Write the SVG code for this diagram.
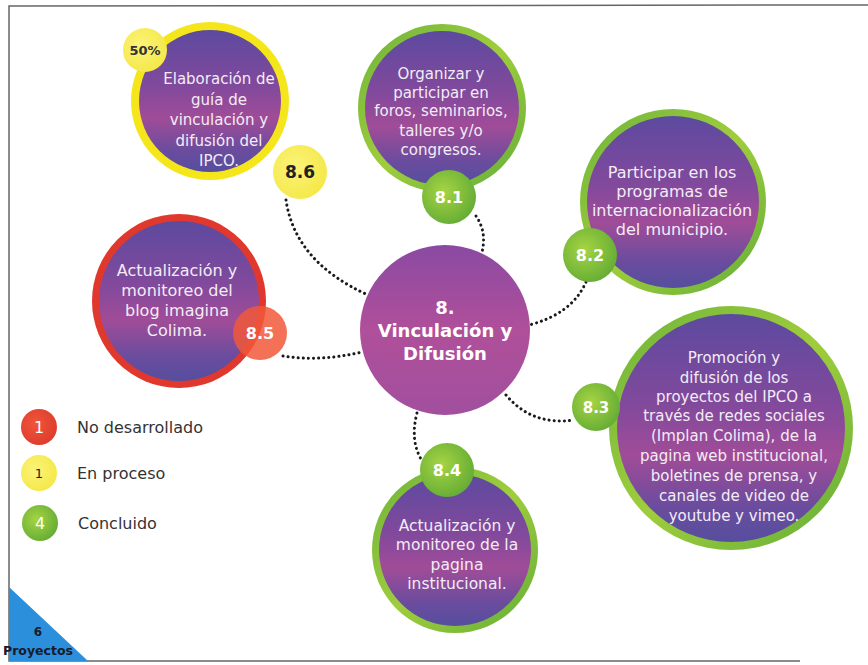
<svg xmlns="http://www.w3.org/2000/svg" width="868" height="665" viewBox="0 0 868 665">
<defs>
<linearGradient id="purple" x1="0" y1="0" x2="0" y2="1">
<stop offset="0" stop-color="#5c4a9f"/>
<stop offset="0.4" stop-color="#82499c"/>
<stop offset="0.62" stop-color="#a04c98"/>
<stop offset="0.85" stop-color="#6a4c9e"/>
<stop offset="1" stop-color="#564e9e"/>
</linearGradient>
<linearGradient id="magenta" x1="0" y1="0" x2="0" y2="1">
<stop offset="0" stop-color="#8a4aa2"/>
<stop offset="0.5" stop-color="#b04f9a"/>
<stop offset="1" stop-color="#a14f9f"/>
</linearGradient>
<linearGradient id="green" x1="0" y1="0" x2="1" y2="1">
<stop offset="0" stop-color="#6db43a"/>
<stop offset="0.5" stop-color="#9fcd3c"/>
<stop offset="1" stop-color="#62ad38"/>
</linearGradient>
<radialGradient id="gbadge" cx="0.4" cy="0.4" r="0.7">
<stop offset="0" stop-color="#a6d443"/>
<stop offset="1" stop-color="#5fa934"/>
</radialGradient>
<radialGradient id="ybadge" cx="0.4" cy="0.4" r="0.7">
<stop offset="0" stop-color="#fbf37a"/>
<stop offset="1" stop-color="#f4e743"/>
</radialGradient>
<radialGradient id="rbadge" cx="0.4" cy="0.4" r="0.7">
<stop offset="0" stop-color="#f0553a"/>
<stop offset="1" stop-color="#dc3a2c"/>
</radialGradient>
</defs>
<style>
.t{font-family:"DejaVu Sans","Liberation Sans",sans-serif;font-size:15.5px;fill:#f3ecf6;text-anchor:middle}
.b{font-family:"DejaVu Sans","Liberation Sans",sans-serif;font-weight:bold;font-size:15px;text-anchor:middle;fill:#fff}
.c{font-family:"DejaVu Sans","Liberation Sans",sans-serif;font-weight:bold;font-size:18px;text-anchor:middle;fill:#fff}
.lg{font-family:"DejaVu Sans","Liberation Sans",sans-serif;font-size:16px;fill:#333}
.dot{fill:none;stroke:#1a1a1a;stroke-width:3;stroke-dasharray:0.1 5;stroke-linecap:round}
</style>
<rect width="868" height="665" fill="#fff"/>
<path d="M868,5 L9,6 L9,661 L800,661" fill="none" stroke="#666" stroke-width="1.5"/>

<g id="connectors">
<path class="dot" d="M286,200 Q295,262 368,295"/>
<path class="dot" d="M476,216 Q487,232 482,252"/>
<path class="dot" d="M586,282 Q572,314 529,325"/>
<path class="dot" d="M283,356 Q320,362 362,352"/>
<path class="dot" d="M506,395 Q532,426 574,420"/>
<path class="dot" d="M417,413 Q410,440 421,459"/>
</g>

<g id="n8-6">
<circle cx="210" cy="101" r="79" fill="#f5e61c"/>
<circle cx="210" cy="101" r="71" fill="url(#purple)"/>
<circle cx="145" cy="50" r="22" fill="url(#ybadge)"/>
<text x="145" y="55" class="b" style="font-size:13px;fill:#333">50%</text>
<text class="t" style="font-size:15px"><tspan x="219" y="84">Elaboración de</tspan><tspan x="219" y="105">guía de</tspan><tspan x="219" y="125">vinculación y</tspan><tspan x="219" y="146">difusión del</tspan><tspan x="219" y="166">IPCO.</tspan></text>
<circle cx="300" cy="172" r="27" fill="url(#ybadge)"/>
<text x="300" y="178" class="b" style="font-size:17px;fill:#222">8.6</text>
</g>

<g id="n8-1">
<circle cx="442" cy="108" r="84" fill="url(#green)"/>
<circle cx="442" cy="108" r="77" fill="url(#purple)"/>
<text class="t" style="font-size:15px"><tspan x="441" y="79">Organizar y</tspan><tspan x="441" y="98">participar en</tspan><tspan x="441" y="116">foros, seminarios,</tspan><tspan x="441" y="136">talleres y/o</tspan><tspan x="441" y="155">congresos.</tspan></text>
<circle cx="449" cy="197" r="27" fill="url(#gbadge)"/>
<text x="449" y="203" class="b" style="font-size:16px">8.1</text>
</g>

<g id="n8-2">
<circle cx="673" cy="202" r="93" fill="url(#green)"/>
<circle cx="673" cy="202" r="86" fill="url(#purple)"/>
<text class="t" style="font-size:16px"><tspan x="672" y="178">Participar en los</tspan><tspan x="672" y="197">programas de</tspan><tspan x="672" y="216">internacionalización</tspan><tspan x="672" y="235">del municipio.</tspan></text>
<circle cx="590" cy="255" r="27" fill="url(#gbadge)"/>
<text x="590" y="261" class="b" style="font-size:16px">8.2</text>
</g>

<g id="n8-5">
<circle cx="179" cy="301" r="87" fill="#e0382c"/>
<circle cx="179" cy="301" r="80" fill="url(#purple)"/>
<text class="t" style="font-size:16px"><tspan x="177" y="276">Actualización y</tspan><tspan x="177" y="296">monitoreo del</tspan><tspan x="177" y="316">blog imagina</tspan><tspan x="177" y="336">Colima.</tspan></text>
<circle cx="260" cy="333" r="27" fill="#f0583a" fill-opacity="0.85"/>
<text x="260" y="339" class="b" style="font-size:16px">8.5</text>
</g>

<g id="n8">
<circle cx="445" cy="330" r="85" fill="url(#magenta)"/>
<text class="c"><tspan x="445" y="314">8.</tspan><tspan x="445" y="337">Vinculación y</tspan><tspan x="445" y="360">Difusión</tspan></text>
</g>

<g id="n8-3">
<circle cx="731" cy="428" r="122" fill="url(#green)"/>
<circle cx="731" cy="428" r="114" fill="url(#purple)"/>
<text class="t" style="font-size:15px"><tspan x="734" y="363">Promoción y</tspan><tspan x="734" y="383">difusión de los</tspan><tspan x="734" y="402">proyectos del IPCO a</tspan><tspan x="734" y="421">través de redes sociales</tspan><tspan x="734" y="441">(Implan Colima), de la</tspan><tspan x="734" y="461">pagina web institucional,</tspan><tspan x="734" y="481">boletines de prensa, y</tspan><tspan x="734" y="501">canales de video de</tspan><tspan x="734" y="521">youtube y vimeo.</tspan></text>
<circle cx="596" cy="407" r="24" fill="url(#gbadge)"/>
<text x="596" y="413" class="b" style="font-size:15px">8.3</text>
</g>

<g id="n8-4">
<circle cx="455" cy="550" r="83" fill="url(#green)"/>
<circle cx="455" cy="550" r="76" fill="url(#purple)"/>
<text class="t" style="font-size:15.5px"><tspan x="457" y="531">Actualización y</tspan><tspan x="457" y="550">monitoreo de la</tspan><tspan x="457" y="570">pagina</tspan><tspan x="457" y="589">institucional.</tspan></text>
<circle cx="447" cy="470" r="27" fill="url(#gbadge)"/>
<text x="447" y="476" class="b" style="font-size:16px">8.4</text>
</g>

<g id="legend">
<circle cx="39" cy="427" r="18" fill="url(#rbadge)"/>
<text x="39" y="433" class="t" style="font-size:16px;fill:#fff">1</text>
<text x="77" y="433" class="lg">No desarrollado</text>
<circle cx="39" cy="473" r="18" fill="url(#ybadge)"/>
<text x="39" y="478" class="t" style="font-size:13px;fill:#222">1</text>
<text x="77" y="479" class="lg">En proceso</text>
<circle cx="40" cy="523" r="18" fill="url(#gbadge)"/>
<text x="40" y="529" class="t" style="font-size:16px;fill:#fff">4</text>
<text x="78" y="529" class="lg">Concluido</text>
</g>

<g id="total">
<path d="M9,587 L88,661 L9,661 Z" fill="#2b8fdc"/>
<text x="38" y="636" class="b" style="font-size:12px;fill:#1a1a2a">6</text>
<text x="38" y="655" class="b" style="font-size:12.5px;fill:#1a1a2a">Proyectos</text>
</g>
</svg>
